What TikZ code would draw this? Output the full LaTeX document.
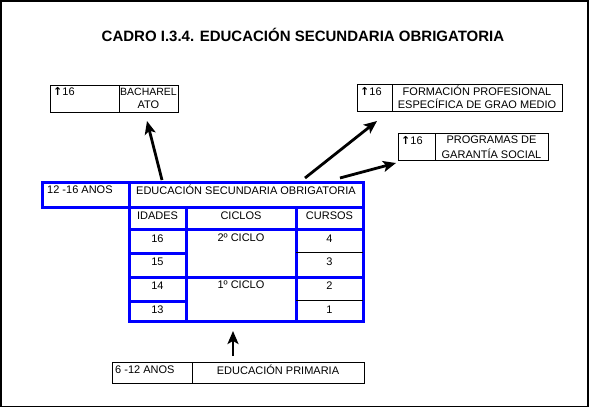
\documentclass[tikz,border=0pt]{standalone}
\usepackage{fontspec}
\setmainfont{Liberation Sans}
\newfontfamily\symfont{DejaVu Sans}
\usetikzlibrary{arrows.meta}
\definecolor{tblue}{RGB}{0,0,255}
\tikzset{
  bluebox/.style={draw=tblue,line width=3pt},
  thinbox/.style={draw=black,line width=0.9pt},
  txt/.style={inner sep=0pt,font=\fontsize{11}{13}\selectfont},
  bigarrow/.style={line width=2.8pt,-{Stealth[length=13pt,width=11pt,inset=3pt]}},
}
\newcommand{\upsixteen}{{\symfont\bfseries\fontsize{11}{12}\selectfont\symbol{"2191}}16}
\begin{document}
\begin{tikzpicture}[x=1pt,y=-1pt]
\useasboundingbox (0,0) rectangle (590,408);
\fill[white] (0,0) rectangle (590,408);
\draw[black,line width=1.6pt] (0.8,0.8) rectangle (588,406.5);
% title
\node[inner sep=0pt,font=\bfseries\fontsize{15}{17}\selectfont] (title) at (303,35) {CADRO I.3.4. EDUCACIÓN SECUNDARIA OBRIGATORIA};
% BACHARELATO box
\draw[thinbox] (50,85) rectangle (178,112);
\draw[thinbox] (119,85) -- (119,112);
\node[txt,anchor=west] (b16) at (53,92) {\upsixteen};
\node[txt,font=\fontsize{10.5}{12}\selectfont] (bach1) at (148.5,92) {BACHAREL};
\node[txt] (bach2) at (148.5,104.5) {ATO};
% FORMACION box
\draw[thinbox] (357,84) rectangle (562,111);
\draw[thinbox] (392,84) -- (392,111);
\node[txt,anchor=west] (f16) at (360,91.5) {\upsixteen};
\node[txt] (form1) at (477,91) {FORMACIÓN PROFESIONAL};
\node[txt] (form2) at (477,104) {ESPECÍFICA DE GRAO MEDIO};
% PROGRAMAS box
\draw[thinbox] (398,133) rectangle (548,160);
\draw[thinbox] (435,133) -- (435,160);
\node[txt,anchor=west] (p16) at (401,140.5) {\upsixteen};
\node[txt] (prog1) at (491.5,140) {PROGRAMAS DE};
\node[txt] (prog2) at (491.5,154) {GARANTÍA SOCIAL};
% main table
\draw[bluebox] (42,182) rectangle (129,207);
\draw[bluebox] (129,182) rectangle (363,207);
\draw[bluebox] (129,207) rectangle (363,321);
\draw[bluebox] (186,207) -- (186,321);
\draw[bluebox] (296,207) -- (296,321);
\draw[bluebox] (129,229) -- (363,229);
\draw[bluebox] (129,277) -- (363,277);
\draw[bluebox] (129,253) -- (186,253);
\draw[bluebox] (129,301) -- (186,301);
\draw[black,line width=0.9pt] (296,252) -- (363,252);
\draw[black,line width=0.9pt] (296,300) -- (363,300);
\node[txt,anchor=west] (anos) at (47,190) {12 -16 ANOS};
\node[txt] (eso) at (246,190) {EDUCACIÓN SECUNDARIA OBRIGATORIA};
\node[txt] (idades) at (157.5,215.5) {IDADES};
\node[txt] (ciclos) at (241,215.5) {CICLOS};
\node[txt] (cursos) at (329.5,215.5) {CURSOS};
\node[txt] (i16) at (157.5,238.5) {16};
\node[txt] (i15) at (157.5,262) {15};
\node[txt] (i14) at (157.5,285.5) {14};
\node[txt] (i13) at (157.5,310) {13};
\node[txt] (c2) at (241,238) {2º CICLO};
\node[txt] (c1) at (241,285) {1º CICLO};
\node[txt] (k4) at (329.5,238.5) {4};
\node[txt] (k3) at (329.5,262) {3};
\node[txt] (k2) at (329.5,285.5) {2};
\node[txt] (k1) at (329.5,310) {1};
% primaria box
\draw[thinbox] (112,362) rectangle (364,383);
\draw[thinbox] (192,362) -- (192,383);
\node[txt,anchor=west] (anos2) at (115,369.5) {6 -12 ANOS};
\node[txt] (prim) at (278,369.5) {EDUCACIÓN PRIMARIA};
% arrow ends
\coordinate (a1s) at (162,180);
\coordinate (a1e) at (147,121);
\coordinate (a2s) at (305,178);
\coordinate (a2e) at (377,121);
\coordinate (a3s) at (340,178);
\coordinate (a3e) at (396,163);
\coordinate (a4s) at (233,356);
\coordinate (a4e) at (233,331);
\draw[bigarrow] (a1s) -- (a1e);
\draw[bigarrow] (a2s) -- (a2e);
\draw[bigarrow] (a3s) -- (a3e);
\draw[bigarrow] (a4s) -- (a4e);
\end{tikzpicture}
\end{document}
